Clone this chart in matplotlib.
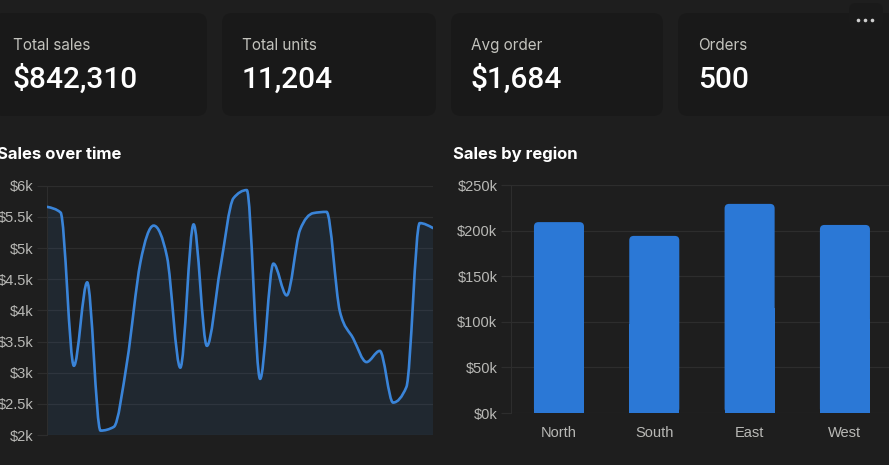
import numpy as np
import matplotlib
matplotlib.use("Agg")
import matplotlib.pyplot as plt
from matplotlib.patches import FancyBboxPatch, PathPatch
from matplotlib.path import Path

# ---------------- data ----------------
kpi_labels = ["Total sales", "Total units", "Avg order", "Orders"]
kpi_values = ["$842,310", "11,204", "$1,684", "500"]

day_index = list(range(30))
daily_sales_k = [5.66, 5.57, 3.11, 4.45, 2.07, 2.13, 3.18, 4.77, 5.36, 4.86,
                 3.08, 5.38, 3.43, 4.67, 5.80, 5.93, 2.90, 4.75, 4.24, 5.29,
                 5.56, 5.58, 3.98, 3.55, 3.17, 3.35, 2.52, 2.77, 5.40, 5.32]
line_ticks = [2, 2.5, 3, 3.5, 4, 4.5, 5, 5.5, 6]
line_tick_labels = ["$2k", "$2.5k", "$3k", "$3.5k", "$4k", "$4.5k", "$5k", "$5.5k", "$6k"]

regions = ["North", "South", "East", "West"]
region_sales_k = [209.3, 194.2, 229.3, 206.2]
bar_ticks = [0, 50, 100, 150, 200, 250]
bar_tick_labels = ["$0k", "$50k", "$100k", "$150k", "$200k", "$250k"]

# ---------------- style ----------------
W, H = 889, 465
BG = "#1e1e1e"
CARD = "#191919"
GRID = "#2d2d2d"
TICK_COLOR = "#b9b9b6"
LABEL_COLOR = "#c3c3bd"
BLUE_LINE = "#3a84d8"
BLUE_BAR = "#2b78d6"
UI_FONT = ["Inter", "DejaVu Sans"]
VALUE_FONT = ["Roboto", "DejaVu Sans"]
AX_FONT = ["Liberation Sans", "DejaVu Sans"]

fig = plt.figure(figsize=(W / 100, H / 100), dpi=100, facecolor=BG)

# background layer in pixel coordinates
bg = fig.add_axes([0, 0, 1, 1], zorder=0)
bg.set_xlim(0, W)
bg.set_ylim(H, 0)
bg.axis("off")

card_boxes = [(-7, 207), (222, 436), (451, 663), (678, 905)]
for (x0, x1), lab, val in zip(card_boxes, kpi_labels, kpi_values):
    bg.add_patch(FancyBboxPatch((x0, 13), x1 - x0, 103,
                                boxstyle="round,pad=0,rounding_size=10",
                                facecolor=CARD, edgecolor="none", zorder=1))
    tx = x0 + 20
    bg.text(tx, 50, lab, fontsize=11, color=LABEL_COLOR, family=UI_FONT,
            ha="left", va="baseline", zorder=3)
    bg.text(tx, 88, val, fontsize=21.5, color="white", family=VALUE_FONT,
            fontweight="medium", ha="left", va="baseline", zorder=3)

# "..." menu button
bg.add_patch(FancyBboxPatch((849, 3), 34, 26,
                            boxstyle="round,pad=0,rounding_size=7",
                            facecolor="#1a1a1a", edgecolor="none", zorder=2))
bg.plot([858, 865, 871.5], [20, 20, 20], linestyle="none", marker="o",
        markersize=2.6, color="#cfcfcf", markeredgewidth=0, zorder=3)

# chart titles
bg.text(-3, 158.5, "Sales over time", fontsize=12, color="white",
        family=UI_FONT, fontweight="bold", ha="left", va="baseline", zorder=3)
bg.text(453, 158.5, "Sales by region", fontsize=12, color="white",
        family=UI_FONT, fontweight="bold", ha="left", va="baseline", zorder=3)


def px_axes(left, top, right, bottom):
    return [left / W, (H - bottom) / H, (right - left) / W, (bottom - top) / H]


def style_axes(ax):
    ax.set_facecolor("none")
    for side in ("top", "right", "bottom"):
        ax.spines[side].set_visible(False)
    ax.spines["left"].set_color(GRID)
    ax.spines["left"].set_linewidth(0.8)
    ax.grid(axis="y", color=GRID, linewidth=0.9)
    ax.set_axisbelow(True)
    ax.tick_params(axis="y", length=7, width=0.9, color=GRID, pad=3,
                   labelcolor=TICK_COLOR, labelsize=10.5)
    for lbl in ax.get_yticklabels():
        lbl.set_family(AX_FONT)


def monotone_path(x, y):
    x = np.asarray(x, float)
    y = np.asarray(y, float)
    n = len(x)
    h = np.diff(x)
    s = np.diff(y) / h
    t = np.zeros(n)
    for i in range(1, n - 1):
        p = (s[i - 1] * h[i] + s[i] * h[i - 1]) / (h[i - 1] + h[i])
        t[i] = (np.sign(s[i - 1]) + np.sign(s[i])) * min(abs(s[i - 1]), abs(s[i]), 0.5 * abs(p))
    t[0] = (3 * s[0] - t[1]) / 2
    t[-1] = (3 * s[-1] - t[-2]) / 2
    verts = [(x[0], y[0])]
    codes = [Path.MOVETO]
    for i in range(n - 1):
        d = h[i] / 3
        verts += [(x[i] + d, y[i] + d * t[i]), (x[i + 1] - d, y[i + 1] - d * t[i + 1]),
                  (x[i + 1], y[i + 1])]
        codes += [Path.CURVE4] * 3
    return verts, codes


# ---------------- line chart ----------------
ax1 = fig.add_axes(px_axes(47.3, 185.7, 433, 435), zorder=2)
ax1.set_xlim(day_index[0], day_index[-1])
ax1.set_ylim(line_ticks[0], line_ticks[-1])
ax1.set_yticks(line_ticks)
ax1.set_yticklabels(line_tick_labels)
ax1.set_xticks([])
style_axes(ax1)

verts, codes = monotone_path(day_index, daily_sales_k)
ymin = ax1.get_ylim()[0]
fill_verts = verts + [(day_index[-1], ymin), (day_index[0], ymin), verts[0]]
fill_codes = codes + [Path.LINETO, Path.LINETO, Path.CLOSEPOLY]
ax1.add_patch(PathPatch(Path(fill_verts, fill_codes), facecolor=BLUE_LINE,
                        alpha=0.1, edgecolor="none", zorder=2))
ax1.add_patch(PathPatch(Path(verts, codes), facecolor="none", edgecolor=BLUE_LINE,
                        linewidth=1.9, capstyle="round", joinstyle="round", zorder=3))

# ---------------- bar chart ----------------
ax2 = fig.add_axes(px_axes(511.3, 185, 892.6, 413), zorder=2)
xpos = np.arange(len(regions))
bars = ax2.bar(xpos, region_sales_k, width=0.525, color=BLUE_BAR, zorder=2)
ax2.set_xlim(-0.5, len(regions) - 0.5)
ax2.set_ylim(bar_ticks[0], bar_ticks[-1])
ax2.set_yticks(bar_ticks)
ax2.set_yticklabels(bar_tick_labels)
ax2.set_xticks(xpos)
ax2.set_xticklabels(regions)
style_axes(ax2)
ax2.tick_params(axis="x", length=0, pad=9, labelcolor=TICK_COLOR, labelsize=10.5)
for lbl in ax2.get_xticklabels():
    lbl.set_family(AX_FONT)

# round the top corners of the bars (radius in pixels, converted to data units)
fig.canvas.draw()
px_per_x = ax2.transData.transform((1, 0))[0] - ax2.transData.transform((0, 0))[0]
px_per_y = ax2.transData.transform((0, 1))[1] - ax2.transData.transform((0, 0))[1]
r_px = 4.5
for b in bars:
    x0, w, hgt = b.get_x(), b.get_width(), b.get_height()
    b.set_visible(False)
    ax2.add_patch(FancyBboxPatch((x0, 0), w, hgt,
                                 boxstyle=f"round,pad=0,rounding_size={r_px / px_per_x}",
                                 mutation_aspect=px_per_x / px_per_y,
                                 facecolor=BLUE_BAR, edgecolor="none", zorder=2))
    # square off the bottom corners
    ax2.bar(x0 + w / 2, hgt * 0.5, width=w, color=BLUE_BAR, zorder=2)

fig.savefig("out.png", dpi=100, facecolor=BG)
